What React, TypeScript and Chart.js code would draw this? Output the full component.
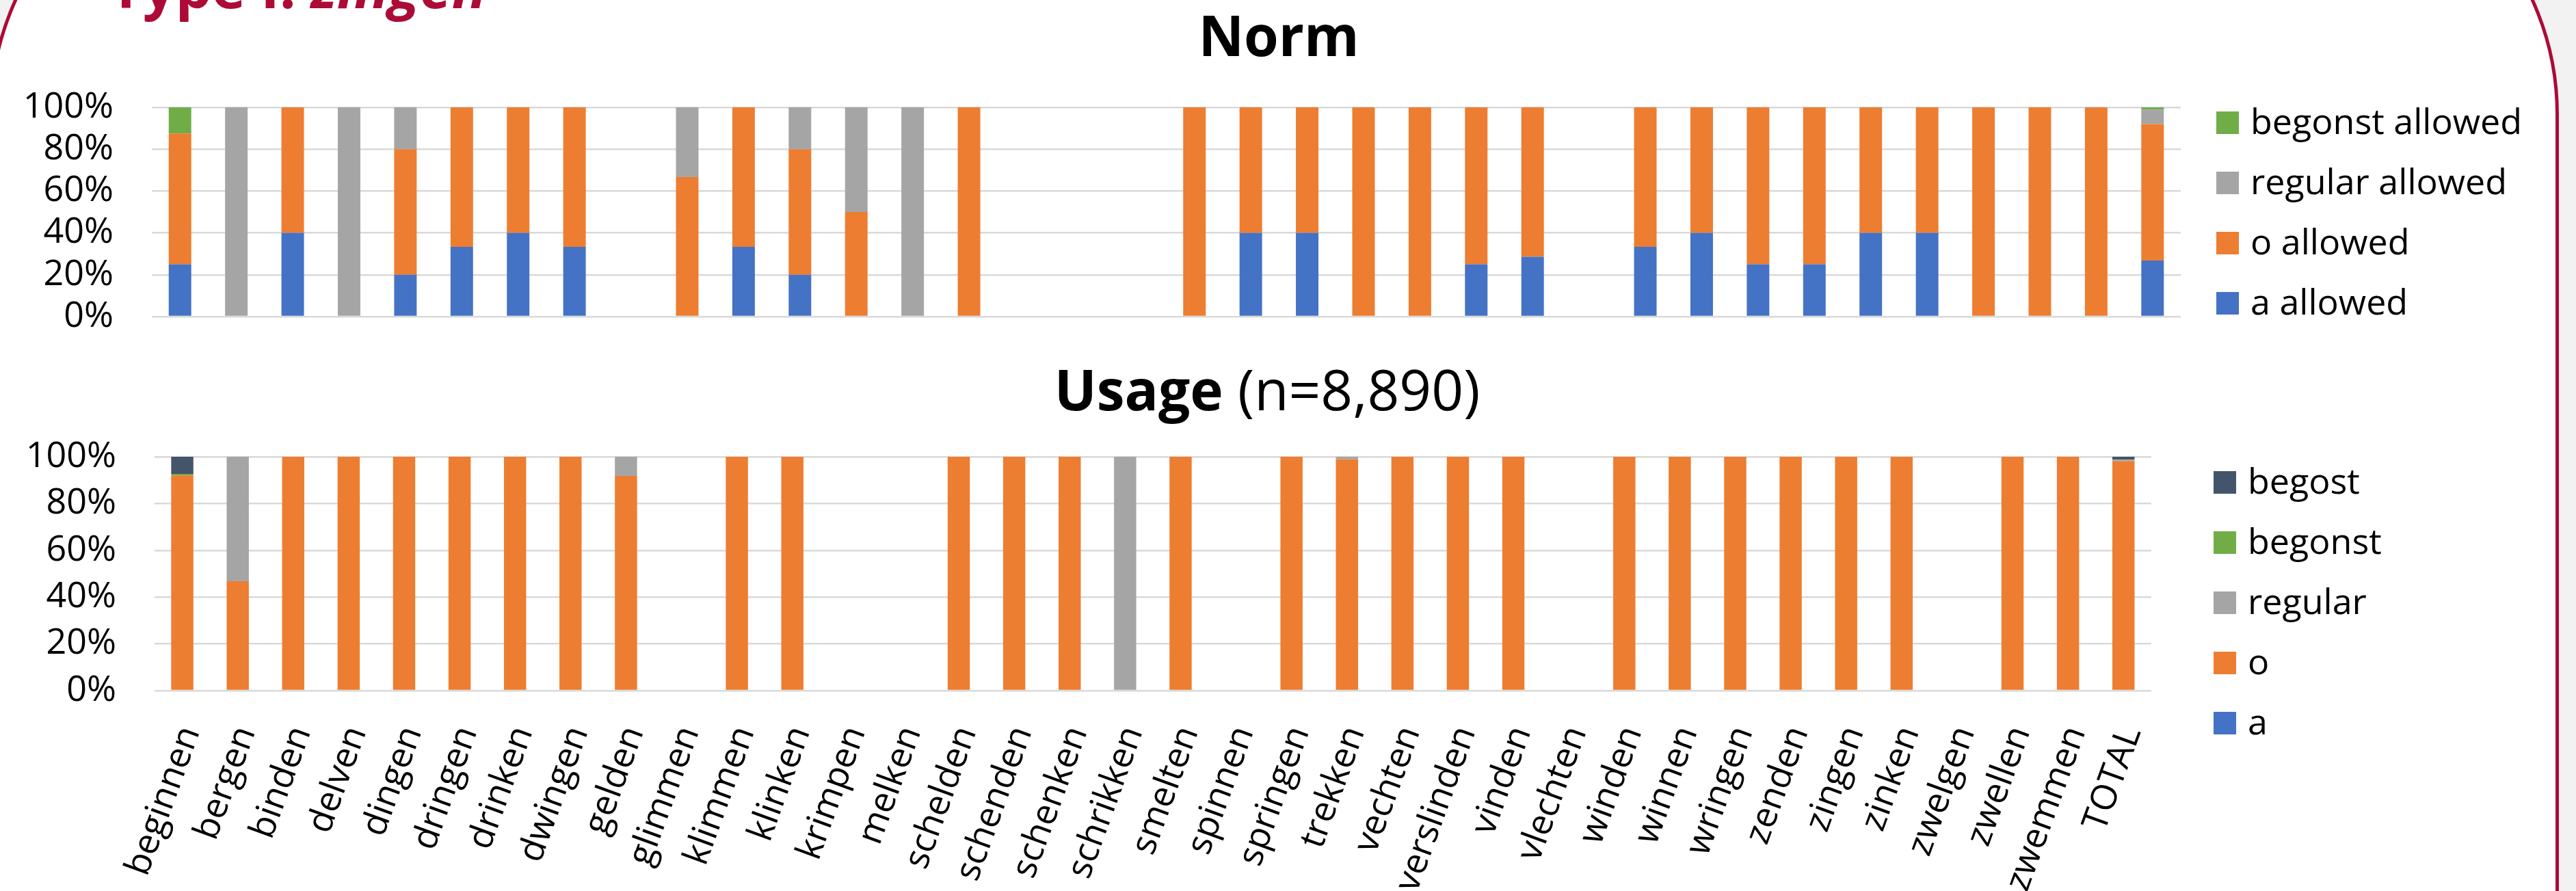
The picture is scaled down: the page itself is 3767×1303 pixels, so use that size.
import React, { useEffect, useRef } from "react";
import { Chart, registerables } from "chart.js";

Chart.register(...registerables);

// Verbs on the shared category axis
const verbs = [
  "beginnen", "bergen", "binden", "delven", "dingen", "dringen", "drinken", "dwingen",
  "gelden", "glimmen", "klimmen", "klinken", "krimpen", "melken", "schelden", "schenden",
  "schenken", "schrikken", "smelten", "spinnen", "springen", "trekken", "vechten", "verslinden",
  "vinden", "vlechten", "winden", "winnen", "wringen", "zenden", "zingen", "zinken",
  "zwelgen", "zwellen", "zwemmen", "TOTAL",
];

const percentTicks = [0, 20, 40, 60, 80, 100];

// Norm: share of forms allowed by the reference works (%)
const normA = [25, 0, 40, 0, 20, 33.3, 40, 33.3, 0, 0, 33.3, 20, 0, 0, 0, 0, 0, 0, 0, 40, 40, 0, 0, 25, 28.6, 0, 33.3, 40, 25, 25, 40, 40, 0, 0, 0, 26.8];
const normO = [62.5, 0, 60, 0, 60, 66.7, 60, 66.7, 0, 66.7, 66.7, 60, 50, 0, 100, 0, 0, 0, 100, 60, 60, 100, 100, 75, 71.4, 0, 66.7, 60, 75, 75, 60, 60, 100, 100, 100, 65.2];
const normRegular = [0, 100, 0, 100, 20, 0, 0, 0, 0, 33.3, 0, 20, 50, 100, 0, 0, 0, 0, 0, 0, 0, 0, 0, 0, 0, 0, 0, 0, 0, 0, 0, 0, 0, 0, 0, 6.9];
const normBegonst = [12.5, 0, 0, 0, 0, 0, 0, 0, 0, 0, 0, 0, 0, 0, 0, 0, 0, 0, 0, 0, 0, 0, 0, 0, 0, 0, 0, 0, 0, 0, 0, 0, 0, 0, 0, 1.1];

// Usage: share of attested forms (%)
const usageA = [0, 0, 0, 0, 0, 0, 0, 0, 0, 0, 0, 0, 0, 0, 0, 0, 0, 0, 0, 0, 0, 0, 0, 0, 0, 0, 0, 0, 0, 0, 0, 0, 0, 0, 0, 0];
const usageO = [92, 46.8, 100, 100, 100, 100, 100, 100, 91.8, 0, 100, 100, 0, 0, 100, 100, 100, 0, 100, 0, 100, 99, 100, 100, 100, 0, 100, 100, 100, 100, 100, 100, 0, 100, 100, 98.2];
const usageRegular = [0, 53.2, 0, 0, 0, 0, 0, 0, 8.2, 0, 0, 0, 0, 0, 0, 0, 0, 100, 0, 0, 0, 1, 0, 0, 0, 0, 0, 0, 0, 0, 0, 0, 0, 0, 0, 0.5];
const usageBegonst = [0.7, 0, 0, 0, 0, 0, 0, 0, 0, 0, 0, 0, 0, 0, 0, 0, 0, 0, 0, 0, 0, 0, 0, 0, 0, 0, 0, 0, 0, 0, 0, 0, 0, 0, 0, 0.1];
const usageBegost = [7.3, 0, 0, 0, 0, 0, 0, 0, 0, 0, 0, 0, 0, 0, 0, 0, 0, 0, 0, 0, 0, 0, 0, 0, 0, 0, 0, 0, 0, 0, 0, 0, 0, 0, 0, 1.2];

const BLUE = "#4472C4";
const ORANGE = "#ED7D31";
const GRAY = "#A5A5A5";
const GREEN = "#70AD47";
const SLATE = "#44546A";
const RED = "#AD0B37";
const FONT = "'Open Sans', 'DejaVu Sans', sans-serif";

type Series = { label: string; data: number[]; color: string };

const normSeries: Series[] = [
  { label: "a allowed", data: normA, color: BLUE },
  { label: "o allowed", data: normO, color: ORANGE },
  { label: "regular allowed", data: normRegular, color: GRAY },
  { label: "begonst allowed", data: normBegonst, color: GREEN },
];

const usageSeries: Series[] = [
  { label: "a", data: usageA, color: BLUE },
  { label: "o", data: usageO, color: ORANGE },
  { label: "regular", data: usageRegular, color: GRAY },
  { label: "begonst", data: usageBegonst, color: GREEN },
  { label: "begost", data: usageBegost, color: SLATE },
];

type ChartProps = {
  series: Series[];
  left: number;
  top: number;
  width: number;
  height: number;
  padTop: number;
  padBottom: number;
  yWidth: number;
  xHeight: number;
  showX: boolean;
};

function StackedChart(props: ChartProps) {
  const ref = useRef<HTMLCanvasElement>(null);
  useEffect(() => {
    if (!ref.current) return;
    const chart = new Chart(ref.current, {
      type: "bar",
      data: {
        labels: verbs,
        datasets: props.series.map((s) => ({
          label: s.label,
          data: s.data,
          backgroundColor: s.color,
          borderWidth: 0,
          barPercentage: 0.4,
          categoryPercentage: 1,
        })),
      },
      options: {
        responsive: false,
        maintainAspectRatio: false,
        animation: false,
        layout: { padding: { top: props.padTop, bottom: props.padBottom, left: 0, right: 11 } },
        plugins: {
          legend: { display: false },
          title: { display: false },
          tooltip: { enabled: false },
        },
        scales: {
          x: {
            stacked: true,
            display: props.showX,
            grid: { display: false },
            border: { display: false },
            ticks: {
              autoSkip: false,
              minRotation: 70,
              maxRotation: 70,
              padding: 36,
              labelOffset: 12,
              color: "#000",
              font: { family: FONT, size: 52 },
            },
            afterFit: (scale: any) => {
              scale.height = props.xHeight;
            },
          },
          y: {
            stacked: true,
            min: 0,
            max: 100,
            border: { display: false },
            grid: {
              color: "#D9D9D9",
              lineWidth: 2.5,
              drawTicks: true,
              tickLength: 53,
              tickColor: "rgba(0,0,0,0)",
            },
            afterBuildTicks: (scale: any) => {
              scale.ticks = percentTicks.map((v) => ({ value: v }));
            },
            ticks: {
              autoSkip: false,
              padding: 3,
              color: "#000",
              font: { family: FONT, size: 52 },
              callback: (v: any) => `${v}%`,
            },
            afterFit: (scale: any) => {
              scale.width = props.yWidth;
            },
          },
        },
      },
    });
    return () => chart.destroy();
  }, []);
  return (
    <canvas
      ref={ref}
      width={props.width}
      height={props.height}
      style={{ position: "absolute", left: props.left, top: props.top, width: props.width, height: props.height }}
    />
  );
}

function Legend({ items, left, top }: { items: Series[]; left: number; top: number }) {
  const rows = [...items].reverse();
  return (
    <div style={{ position: "absolute", left, top, fontFamily: FONT, fontSize: 52, lineHeight: 1, color: "#000" }}>
      {rows.map((s) => (
        <div key={s.label} style={{ height: 88, display: "flex", alignItems: "center", whiteSpace: "nowrap" }}>
          <span style={{ display: "inline-block", width: 33, height: 33, background: s.color, marginRight: 17 }} />
          <span style={{ position: "relative", top: -3 }}>{s.label}</span>
        </div>
      ))}
    </div>
  );
}

export default function App() {
  useEffect(() => {
    document.body.style.margin = "0";
  }, []);
  return (
    <div
      style={{
        position: "absolute",
        left: 0,
        top: 0,
        width: 3767,
        height: 1303,
        overflow: "hidden",
        background: "#F2F2F2",
        fontFamily: FONT,
      }}
    >
      <div
        style={{
          position: "absolute",
          left: -16,
          top: -238,
          width: 3758,
          height: 2200,
          boxSizing: "border-box",
          border: `5px solid ${RED}`,
          borderRadius: 405,
          background: "#FFFFFF",
        }}
      />
      <div
        style={{
          position: "absolute",
          left: 160,
          top: -62,
          fontSize: 84,
          lineHeight: 1,
          fontWeight: 700,
          color: RED,
          whiteSpace: "nowrap",
        }}
      >
        Type I: <i>zingen</i>
      </div>

      <div
        style={{
          position: "absolute",
          left: 1370,
          top: 9,
          width: 1000,
          textAlign: "center",
          fontSize: 82,
          lineHeight: 1,
          fontWeight: 700,
          color: "#000",
        }}
      >
        Norm
      </div>
      <StackedChart
        series={normSeries}
        left={0}
        top={100}
        width={3200}
        height={400}
        padTop={57}
        padBottom={37}
        yWidth={222}
        xHeight={0}
        showX={false}
      />
      <Legend items={normSeries} left={3241} top={135} />

      <div
        style={{
          position: "absolute",
          left: 1353,
          top: 527,
          width: 1000,
          textAlign: "center",
          fontSize: 82,
          lineHeight: 1,
          color: "#000",
          whiteSpace: "nowrap",
        }}
      >
        <b>Usage</b> <span style={{ fontWeight: 400 }}>(n=8,890)</span>
      </div>
      <StackedChart
        series={usageSeries}
        left={0}
        top={600}
        width={3200}
        height={703}
        padTop={68}
        padBottom={0}
        yWidth={226}
        xHeight={293}
        showX={true}
      />
      <Legend items={usageSeries} left={3237} top={661} />
    </div>
  );
}
